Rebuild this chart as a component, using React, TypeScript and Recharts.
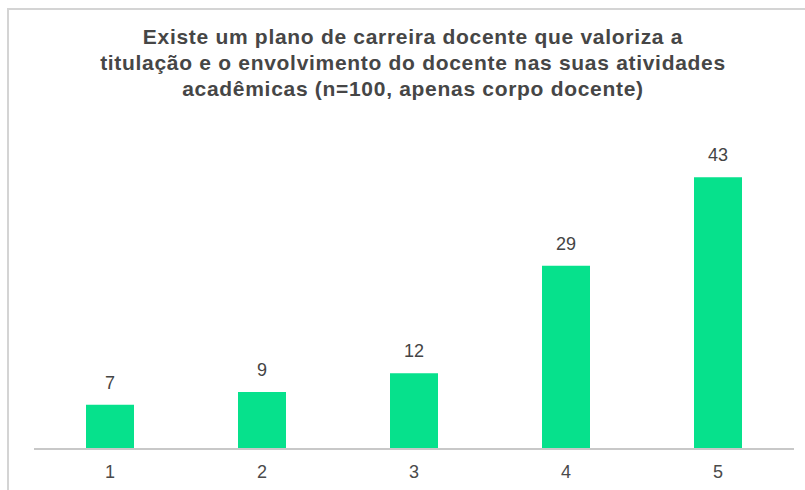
import React from "react";
import { BarChart, Bar, XAxis, YAxis, LabelList } from "recharts";

const categories = ["1", "2", "3", "4", "5"];
const respostas = [7, 9, 12, 29, 43];
const titleLines = [
  "Existe um plano de carreira docente que valoriza a",
  "titulação e o envolvimento do docente nas suas atividades",
  "acadêmicas (n=100, apenas corpo docente)",
];

const data = categories.map((c, i) => ({ nota: c, valor: respostas[i] }));

const font = "'Liberation Sans', Arial, sans-serif";

export default function App() {
  return (
    <div
      style={{
        position: "absolute",
        left: 0,
        top: 0,
        width: 805,
        height: 490,
        overflow: "hidden",
        background: "#fff",
        fontFamily: font,
      }}
    >
      <div
        style={{
          position: "absolute",
          left: 7,
          top: 8,
          width: 820,
          height: 500,
          borderLeft: "2px solid #d4d4d4",
          borderTop: "2px solid #d4d4d4",
        }}
      />
      <BarChart
        width={796}
        height={480}
        data={data}
        style={{ position: "absolute", left: 9, top: 10 }}
        margin={{ top: 123, right: 11, bottom: 11, left: 25 }}
      >
        <XAxis
          dataKey="nota"
          axisLine={{ stroke: "#c8c8c8", strokeWidth: 2 }}
          tickLine={false}
          tickMargin={10}
          height={30}
          tick={{ fill: "#4a4a4a", fontSize: 18, fontFamily: font }}
        />
        <YAxis hide domain={[0, 50]} />
        <Bar dataKey="valor" fill="#06e18c" barSize={48} isAnimationActive={false}>
          <LabelList
            dataKey="valor"
            position="top"
            offset={16}
            fill="#444"
            fontSize={18}
            fontFamily={font}
          />
        </Bar>
      </BarChart>
      <div
        style={{
          position: "absolute",
          left: 13,
          top: 24,
          width: 800,
          textAlign: "center",
          fontSize: 21,
          letterSpacing: 0.7,
          lineHeight: "26px",
          fontWeight: "bold",
          color: "#464646",
        }}
      >
        {titleLines.map((l) => (
          <div key={l}>{l}</div>
        ))}
      </div>
    </div>
  );
}
